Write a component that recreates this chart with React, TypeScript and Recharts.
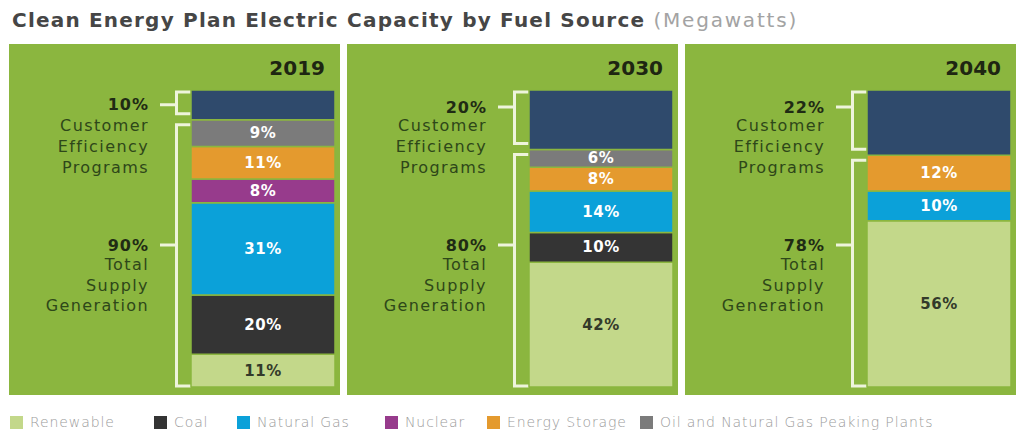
import React from "react";
import { Bar, BarChart, LabelList, XAxis, YAxis } from "recharts";

const years = ["2019", "2030", "2040"];
const efficiency = [10, 20, 22];
const supplyTotal = [90, 80, 78];
const renewable = [11, 42, 56];
const coal = [20, 10, 0];
const naturalGas = [31, 14, 10];
const nuclear = [8, 0, 0];
const energyStorage = [11, 8, 12];
const oilGasPeaking = [9, 6, 0];

const fuels = [
  { key: "renewable", name: "Renewable", color: "#c3d88a", text: "#333a2a", values: renewable },
  { key: "coal", name: "Coal", color: "#343434", text: "#ffffff", values: coal },
  { key: "naturalGas", name: "Natural Gas", color: "#0ba1d9", text: "#ffffff", values: naturalGas },
  { key: "nuclear", name: "Nuclear", color: "#973b8c", text: "#ffffff", values: nuclear },
  { key: "energyStorage", name: "Energy Storage", color: "#e49a2e", text: "#ffffff", values: energyStorage },
  { key: "oilGasPeaking", name: "Oil and Natural Gas Peaking Plants", color: "#7b7b7b", text: "#ffffff", values: oilGasPeaking },
];

const GREEN = "#8bb63f";
const NAVY = "#2f4a6c";
const FONT = "'DejaVu Sans', sans-serif";

const legendLefts = [10, 154, 237, 385, 487, 640];

function SegmentLabel(props: any) {
  const { x, y, width, height, value, fill } = props;
  if (!value) return null;
  return (
    <text
      x={x + width / 2}
      y={y + height / 2}
      textAnchor="middle"
      dominantBaseline="central"
      fill={fill}
      fontFamily={FONT}
      fontWeight="bold"
      fontSize={15}
      letterSpacing={0.5}
    >
      {value}%
    </text>
  );
}

function Bracket(props: any) {
  const { x, y, width, height, kind, payload } = props;
  const vx = x + 1.5;
  const isEff = kind === "efficiency";
  // small insets so the two brackets don't touch
  const top = y + (isEff ? 2 : 5);
  const bottom = y + height - (isEff ? 6 : 1);
  const tickY = isEff ? Math.min(y + height / 2, y + 17) : 201;
  const lines = isEff ? ["Customer", "Efficiency", "Programs"] : ["Total", "Supply", "Generation"];
  const lineYs = isEff ? [81, 102, 123] : [220, 241, 261];
  const pct = isEff ? payload.efficiency : payload.supply;
  const tx = x - 26;
  const c = "#eef4dc";
  return (
    <g>
      <path
        d={`M${x + width},${top} L${vx},${top} L${vx},${bottom} L${x + width},${bottom} M${x - 15},${tickY} L${vx},${tickY}`}
        stroke={c}
        strokeWidth={3}
        fill="none"
      />
      <text x={tx} y={tickY} textAnchor="end" dominantBaseline="central" fontFamily={FONT} fontWeight="bold" fontSize={16} letterSpacing={1} fill="#1f2b14">
        {pct}%
      </text>
      {lines.map((l, i) => (
        <text key={l} x={tx} y={lineYs[i]} textAnchor="end" dominantBaseline="central" fontFamily={FONT} fontSize={16} letterSpacing={1.4} fill="#2e4719">
          {l}
        </text>
      ))}
    </g>
  );
}

function Panel({ i, left }: { i: number; left: number }) {
  const row: any = { year: years[i], efficiency: efficiency[i], supply: supplyTotal[i] };
  fuels.forEach((f) => (row[f.key] = f.values[i]));
  return (
    <div style={{ position: "absolute", left, top: 44, width: 331, height: 351, background: GREEN }}>
      <div
        style={{
          position: "absolute",
          right: 15,
          top: 12,
          fontFamily: FONT,
          fontWeight: "bold",
          fontSize: 20,
          lineHeight: "24px",
          color: "#1e2612",
        }}
      >
        {years[i]}
      </div>
      <BarChart
        width={331}
        height={351}
        data={[row]}
        margin={{ top: 46, right: 2, bottom: 8, left: 163 }}
        barCategoryGap={0}
        barGap={6}
      >
        <XAxis dataKey="year" hide />
        <YAxis hide domain={[0, 100]} />
        <Bar dataKey="supply" stackId="bracket" barSize={16} isAnimationActive={false} shape={(p: any) => <Bracket {...p} kind="supply" />} />
        <Bar dataKey="efficiency" stackId="bracket" barSize={16} isAnimationActive={false} shape={(p: any) => <Bracket {...p} kind="efficiency" />} />
        {fuels.map((f) => (
          <Bar key={f.key} dataKey={f.key} stackId="fuel" barSize={144} fill={f.color} stroke={GREEN} strokeWidth={1.5} isAnimationActive={false}>
            <LabelList dataKey={f.key} content={(p: any) => <SegmentLabel {...p} fill={f.text} />} />
          </Bar>
        ))}
        <Bar dataKey="efficiency" stackId="fuel" barSize={144} fill={NAVY} stroke={GREEN} strokeWidth={1.5} isAnimationActive={false} />
      </BarChart>
    </div>
  );
}

export default function App() {
  return (
    <div style={{ position: "absolute", left: 0, top: 0, width: 1022, height: 434, background: "#ffffff", overflow: "hidden" }}>
      <div style={{ position: "absolute", left: 12, top: 8, fontFamily: FONT, fontSize: 20, lineHeight: "24px", letterSpacing: 1.2, whiteSpace: "nowrap" }}>
        <span style={{ fontWeight: "bold", color: "#464646" }}>Clean Energy Plan Electric Capacity by Fuel Source</span>
        <span style={{ color: "#a3a3a3", letterSpacing: 1.8 }}> (Megawatts)</span>
      </div>
      <Panel i={0} left={9} />
      <Panel i={1} left={347} />
      <Panel i={2} left={685} />
      {fuels.map((f, k) => (
        <div key={f.key} style={{ position: "absolute", left: legendLefts[k], top: 414, height: 16, display: "flex", alignItems: "center", whiteSpace: "nowrap" }}>
          <div style={{ width: 13, height: 13, background: f.color, marginRight: 7 }} />
          <span style={{ fontFamily: FONT, fontWeight: 200, fontSize: 14, color: "#9a9a9a", letterSpacing: 0.9 }}>{f.name}</span>
        </div>
      ))}
    </div>
  );
}
